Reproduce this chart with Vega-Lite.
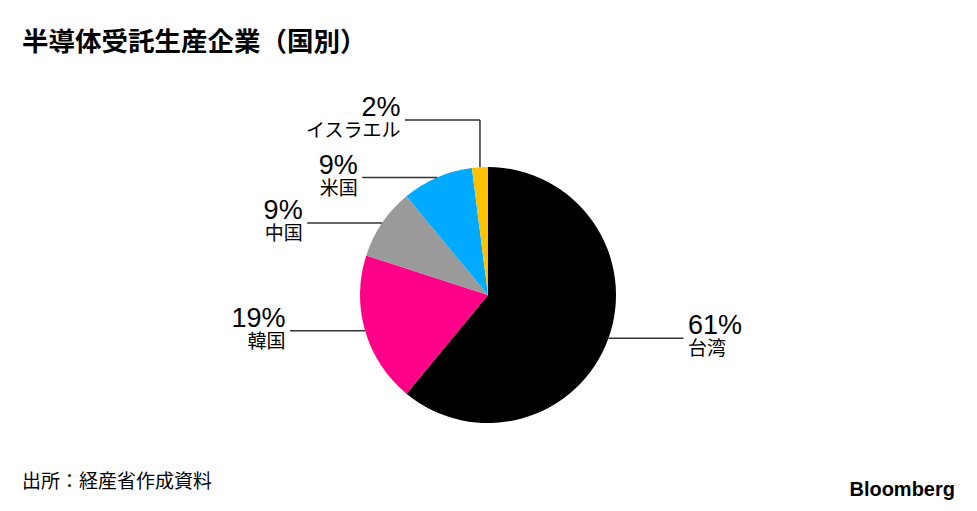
{
  "$schema": "https://vega.github.io/schema/vega-lite/v6.json",
  "width": 977,
  "height": 511,
  "autosize": "none",
  "padding": 0,
  "background": "white",
  "config": {"view": {"stroke": null}},
  "title": {
    "text": "半導体受託生産企業（国別）",
    "font": "Noto Sans CJK JP",
    "fontSize": 26.5,
    "fontWeight": "bold",
    "color": "#000000",
    "anchor": "start",
    "frame": "group",
    "baseline": "alphabetic",
    "offset": -77,
    "dx": 22
  },
  "data": {
    "values": [
      {"idx": 1, "country": "台湾", "pct": 61},
      {"idx": 2, "country": "韓国", "pct": 19},
      {"idx": 3, "country": "中国", "pct": 9},
      {"idx": 4, "country": "米国", "pct": 9},
      {"idx": 5, "country": "イスラエル", "pct": 2}
    ]
  },
  "layer": [
    {
      "mark": {"type": "arc", "outerRadius": 128},
      "encoding": {
        "x": {"datum": 0, "type": "quantitative", "scale": {"domain": [-3.8125, 3.8203], "nice": false, "zero": false}, "axis": null},
        "y": {"datum": 0, "type": "quantitative", "scale": {"domain": [-1.6875, 2.3047], "nice": false, "zero": false}, "axis": null},
        "theta": {"field": "pct", "type": "quantitative", "stack": true},
        "order": {"field": "idx", "type": "quantitative"},
        "color": {
          "field": "country",
          "type": "nominal",
          "scale": {
            "domain": ["台湾", "韓国", "中国", "米国", "イスラエル"],
            "range": ["#000000", "#ff0088", "#9a9a9a", "#00aaff", "#ffc200"]
          },
          "legend": null
        }
      }
    },
    {
      "transform": [
        {"window": [{"op": "sum", "field": "pct", "as": "cum"}], "sort": [{"field": "idx"}], "frame": [null, 0]},
        {"calculate": "2 * PI * (datum.cum - datum.pct / 2) / 100", "as": "mid"},
        {"calculate": "sin(datum.mid)", "as": "x0"},
        {"calculate": "cos(datum.mid)", "as": "y0"},
        {"calculate": "datum.x0 >= 0 ? 1 : -1", "as": "side"},
        {"calculate": "datum.y0 > 0.95 ? 1.367 : datum.y0", "as": "yl"},
        {"calculate": "datum.x0 + datum.side * 0.586", "as": "xe"},
        {"calculate": "datum.xe + datum.side * 0.035", "as": "xt"},
        {"calculate": "datum.pct + '%'", "as": "plabel"}
      ],
      "layer": [
        {
          "mark": {"type": "rule", "color": "#333333", "strokeWidth": 1.5},
          "encoding": {
            "x": {"field": "x0", "type": "quantitative"},
            "y": {"field": "y0", "type": "quantitative"},
            "y2": {"field": "yl"}
          }
        },
        {
          "mark": {"type": "rule", "color": "#333333", "strokeWidth": 1.5},
          "encoding": {
            "x": {"field": "x0", "type": "quantitative"},
            "x2": {"field": "xe"},
            "y": {"field": "yl", "type": "quantitative"}
          }
        },
        {
          "transform": [{"filter": "datum.side > 0"}],
          "layer": [
            {
              "mark": {"type": "text", "align": "left", "baseline": "alphabetic", "dy": -4, "font": "Liberation Sans", "fontSize": 27, "color": "#000000"},
              "encoding": {
                "x": {"field": "xt", "type": "quantitative"},
                "y": {"field": "yl", "type": "quantitative"},
                "text": {"field": "plabel"}
              }
            },
            {
              "mark": {"type": "text", "align": "left", "baseline": "top", "dy": 2, "font": "Noto Sans CJK JP", "fontSize": 19, "color": "#000000"},
              "encoding": {
                "x": {"field": "xt", "type": "quantitative"},
                "y": {"field": "yl", "type": "quantitative"},
                "text": {"field": "country"}
              }
            }
          ]
        },
        {
          "transform": [{"filter": "datum.side < 0"}],
          "layer": [
            {
              "mark": {"type": "text", "align": "right", "baseline": "alphabetic", "dy": -4, "font": "Liberation Sans", "fontSize": 27, "color": "#000000"},
              "encoding": {
                "x": {"field": "xt", "type": "quantitative"},
                "y": {"field": "yl", "type": "quantitative"},
                "text": {"field": "plabel"}
              }
            },
            {
              "mark": {"type": "text", "align": "right", "baseline": "top", "dy": 2, "font": "Noto Sans CJK JP", "fontSize": 19, "color": "#000000"},
              "encoding": {
                "x": {"field": "xt", "type": "quantitative"},
                "y": {"field": "yl", "type": "quantitative"},
                "text": {"field": "country"}
              }
            }
          ]
        }
      ]
    },
    {
      "data": {"values": [{"note": "出所：経産省作成資料"}]},
      "mark": {"type": "text", "align": "left", "baseline": "alphabetic", "font": "Noto Sans CJK JP", "fontSize": 19, "color": "#000000"},
      "encoding": {
        "x": {"datum": -3.6406, "type": "quantitative"},
        "y": {"datum": -1.5078, "type": "quantitative"},
        "text": {"field": "note"}
      }
    },
    {
      "data": {"values": [{"brand": "Bloomberg"}]},
      "mark": {"type": "text", "align": "right", "baseline": "alphabetic", "font": "Liberation Sans", "fontSize": 20, "fontWeight": "bold", "color": "#000000"},
      "encoding": {
        "x": {"datum": 3.6484, "type": "quantitative"},
        "y": {"datum": -1.5703, "type": "quantitative"},
        "text": {"field": "brand"}
      }
    }
  ]
}
